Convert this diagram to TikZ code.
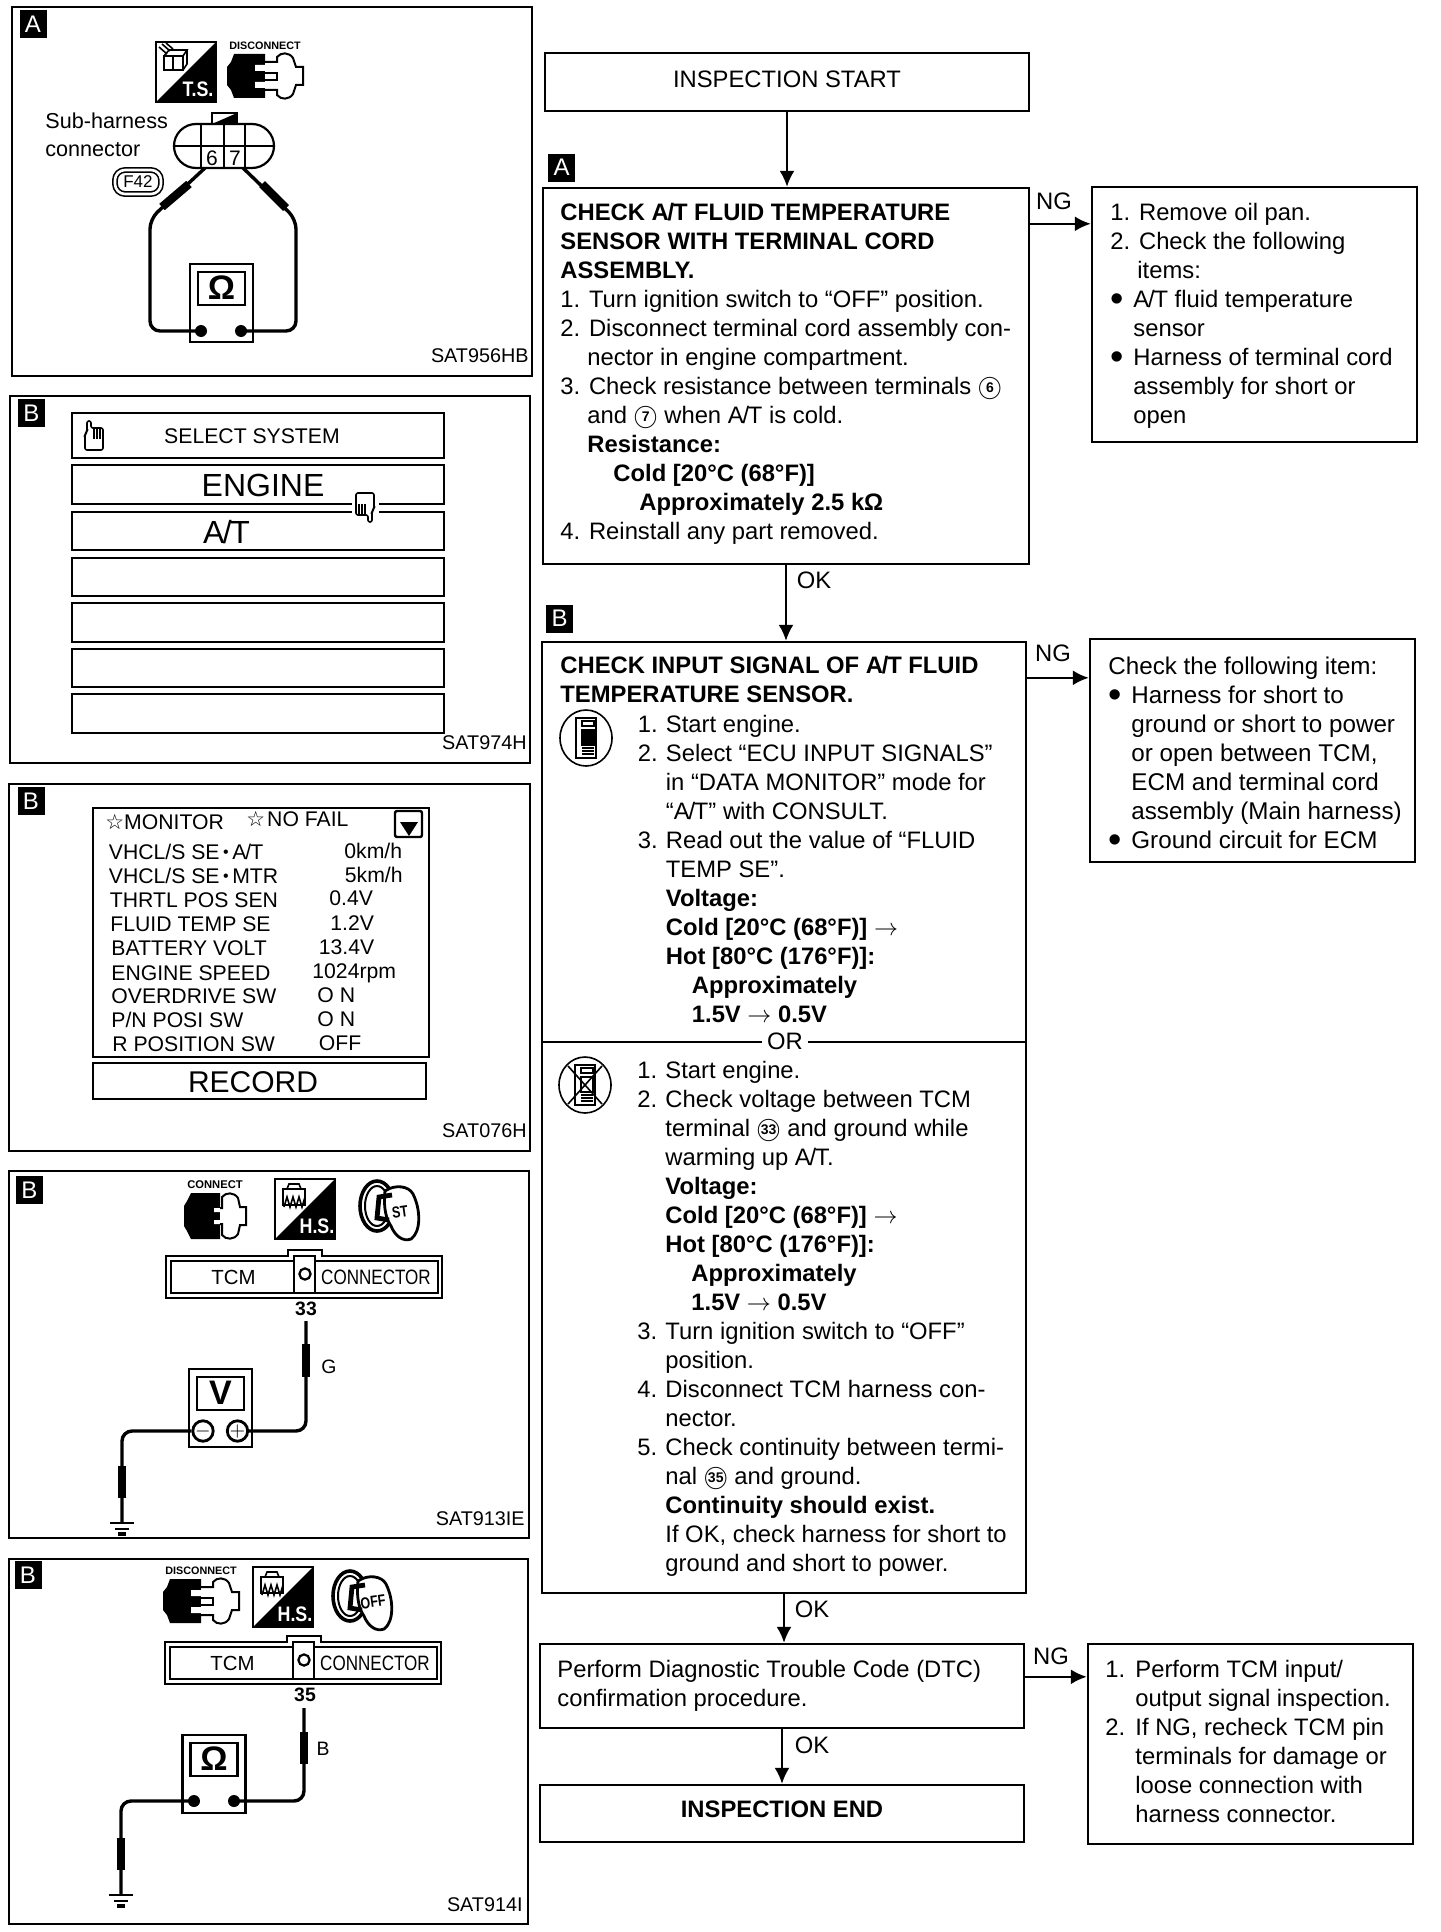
\documentclass[tikz,border=0pt]{standalone}
\usepackage{fontspec}
\setmainfont{Liberation Sans}
\newfontfamily\symfont{DejaVu Sans}
\usetikzlibrary{arrows.meta}

\newcommand{\sz}[1]{\fontsize{#1}{#1}\selectfont}
\newcommand{\atxt}{A\kern-.05em/\kern-.05em T}
\newcommand{\nm}[1]{\makebox[14pt][l]{#1}}
\newcommand{\blt}{\makebox[11.5pt][l]{\sz{19}\raisebox{-2pt}{\textbullet}}}
\newcommand{\cnum}[1]{\ooalign{\hfil\raisebox{1.2pt}{\sz{7}\textbf{#1}}\hfil\cr$\bigcirc$\cr}}

\tikzset{
    panel/.style={line width=1.2pt},
    badge/.style={fill=black, text=white, inner sep=0pt, minimum width=13.5pt, minimum height=14pt, font=\sz{12}},
    flowbox/.style={draw, line width=1.2pt, inner sep=0pt, minimum width=242pt, font=\sz{11.9}},
    sidebox/.style={draw, line width=1.2pt, inner sep=0pt, minimum width=162.5pt},
    flowtxt/.style={anchor=north west, inner sep=0pt, align=left, font=\fontsize{11.9}{14.5}\selectfont},
    arr/.style={line width=1.1pt, -{Latex[width=7.5pt,length=8pt]}},
    verdict/.style={inner sep=0pt, font=\sz{11.9}},
    codetxt/.style={anchor=east, inner sep=0pt, font=\sz{9.9}},
    rowbox/.style={line width=1.3pt},
    montxt/.style={anchor=west, inner sep=0pt, text height=7.6pt, text depth=0pt, font=\sz{10.6}},
    wire/.style={line width=1.7pt, rounded corners=5pt},
    probe/.style={line width=4.2pt},
    termcircle/.style={draw, circle, line width=1.4pt, fill=white, inner sep=0pt, minimum size=9.5pt, font=\sz{10}},
    pics/hand/.style={code={
        \draw[line width=.8pt, fill=white, rounded corners=1pt] (3,12) -- (3,1) -- (7,1) -- (7,8) -- (19,8) -- (19,30) -- (1,30) -- (1,14) -- cycle;
        \draw[line width=.7pt] (10,9) -- (10,19) (13,9) -- (13,19) (16,9) -- (16,19);
    }},
    pics/disconnect/.style={code={
        \fill (7,2) -- (38,2) -- (38,46) -- (7,46) -- (4,38) -- (0,33) -- (0,15) -- (4,10) -- cycle;
        \fill[white] (28,13) rectangle (38,19) (28,30) rectangle (38,36);
        \draw[line width=1pt, fill=white] (38,10) -- (50,10) -- (50,5) .. controls (54,0) and (62,0) .. (66,6) -- (69,15) -- (76,15) -- (76,33) -- (69,33) -- (66,42) .. controls (62,48) and (54,48) .. (50,43) -- (50,38) -- (38,38);
        \draw[line width=1pt, fill=white] (38,21) -- (50,21) -- (50,28) -- (38,28);
    }},
    pics/connect/.style={code={
        \fill (7,0) -- (36,0) -- (36,46) -- (7,46) -- (3,38) -- (0,33) -- (0,13) -- (3,8) -- cycle;
        \fill[white] (30,15) rectangle (38,19) (30,27) rectangle (38,31);
        \draw[line width=1pt, fill=white] (36,15) -- (38,15) -- (38,4) .. controls (42,-1) and (50,-1) .. (54,5) -- (56,14) -- (62,14) -- (62,32) -- (56,32) -- (54,41) .. controls (50,47) and (42,47) .. (38,42) -- (38,31) -- (36,31);
    }},
    pics/sqicon/.style={code={
        \draw[line width=1.1pt] (0,0) rectangle (60,60);
        \fill (60,0) -- (60,60) -- (0,60) -- cycle;
        \node (-lab) [text=white, inner sep=0pt, xscale=.85, font=\bfseries\sz{10.5}] at (42,47) {#1};
    }},
    pics/cubemark/.style={code={
        \draw[line width=.8pt] (8,14) rectangle (27,28) (8,14) -- (13,8) -- (31,8) -- (27,14) (17,14) -- (17,28) (31,8) -- (31,22) -- (27,28);
        \draw[line width=.8pt] (3,5) -- (11,12) (6,2) -- (14,9) (10,1) -- (17,7);
    }},
    pics/heatmark/.style={code={
        \draw[line width=.8pt] (8,10) rectangle (30,26) (12,10) -- (14,5) -- (24,5) -- (26,10);
        \draw[line width=.8pt] (9,28) -- (12,18) -- (15,28) -- (18,18) -- (21,28) -- (24,18) -- (27,28) -- (30,18);
    }},
    pics/keyicon/.style={code={
        \draw[line width=1.8pt] (18,26) ellipse [x radius=8.5pt, y radius=12.5pt];
        \draw[line width=1pt] (18,26) ellipse [x radius=6pt, y radius=10pt];
        \draw[line width=1.4pt, fill=white] (26,11) .. controls (36,4) and (50,6) .. (54,14) .. controls (62,30) and (62,52) .. (52,59) .. controls (44,62) and (36,56) .. (32,46) .. controls (28,40) and (24,30) .. cycle;
        \draw[line width=2.4pt] (33,15) -- (20,17) -- (18,38) -- (30,40);
        \node (-lab) [inner sep=0pt, rotate=8, xscale=.78, font=\bfseries\sz{8}] at (41,32) {#1};
    }},
    pics/meter/.style={code={
        \draw[line width=1.3pt, fill=white] (0,0) rectangle (63,78);
        \draw[line width=1.3pt] (8,8) rectangle (55,41);
        \node (-sym) [inner sep=0pt, font=\bfseries\sz{17}] at (31.5,24) {#1};
    }},
    pics/tcmconn/.style={code={
        \draw[line width=1.2pt, fill=white] (0,0) -- (122,0) -- (122,-6) -- (156,-6) -- (156,0) -- (276,0) -- (276,42) -- (0,42) -- cycle;
        \draw[line width=1.2pt] (5,5) rectangle (272,37);
        \draw[line width=1.2pt, fill=white] (128,0) rectangle (149,37);
        \draw[line width=1.1pt] (139,18) circle (2.8pt);
        \node (-left) [inner sep=0pt, font=\sz{10.2}] at (67.5,21) {TCM};
        \node (-right) [inner sep=0pt, xscale=.82, font=\sz{10.4}] at (210,21) {CONNECTOR};
    }},
    pics/earth/.style={code={
        \draw[line width=1.3pt] (-12,0) -- (12,0) (-7,6) -- (7,6);
        \draw[line width=1.6pt] (-4,11) -- (4,11);
    }},
    pics/consult/.style={code={
        \draw[line width=.8pt] (0,0) ellipse [x radius=13pt, y radius=14pt];
        \draw[line width=1pt, fill=white] (-10,-20) rectangle (10,20);
        \fill[#1] (-4,-8) rectangle (8,7);
        \draw[line width=.8pt] (-4,-8) rectangle (8,7);
        \draw[line width=.6pt] (-4,-17) rectangle (8,-12) (-4,10) -- (8,10) (-4,13) -- (8,13) (-4,16) -- (8,16);
    }},
}

\begin{document}
\begin{tikzpicture}[x=.5pt, y=-.5pt]
    \useasboundingbox (0,0) rectangle (1440,1932);

    % panel A
    \draw[panel] (12,7) rectangle (532,376);
    \node (badgeA) [badge] at (33,24) {A};
    \pic at (156,42) {sqicon={T.S.}};
    \pic at (156,42) {cubemark};
    \node (discA) [inner sep=0pt, font=\bfseries\sz{5.4}] at (265,46) {DISCONNECT};
    \pic at (227,52) {disconnect};
    \node (subText) [anchor=north west, inner sep=0pt, align=left, font=\fontsize{10.8}{14}\selectfont] at (45,112) {Sub-harness\\connector};
    \draw[line width=1.1pt] (212,113) rectangle (237,124);
    \fill (212,124) -- (237,113) -- (237,124) -- cycle;
    \draw[line width=1.1pt, rounded corners=11pt] (174,124) rectangle (274,168);
    \draw[line width=.9pt] (174,146) -- (274,146);
    \draw[line width=1.1pt] (201,124) -- (201,168) (224,124) -- (224,168) (245,124) -- (245,168);
    \node (pinSix) [inner sep=0pt, font=\sz{10.5}] at (212,158) {6};
    \node (pinSeven) [inner sep=0pt, font=\sz{10.5}] at (235,158) {7};
    \node (tagF) [draw, double, double distance=1.3pt, line width=.8pt, rounded corners=5pt, inner sep=0pt, minimum width=23pt, minimum height=12pt, font=\sz{8.5}] at (138,182) {F42};
    \pic (meterA) at (190,264) {meter={Ω}};
    \fill (201,331) circle (3pt) coordinate (dotAl);
    \fill (241,331) circle (3pt) coordinate (dotAr);
    \coordinate (pinAl) at (205,168);
    \coordinate (pinAr) at (243,168);
    \draw[wire] (dotAl) -- (150,331) -- (150,219) -- (pinAl);
    \draw[wire] (dotAr) -- (296,331) -- (296,219) -- (pinAr);
    \draw[probe] (189,184) -- (162,207);
    \draw[probe] (262,184) -- (286,208);
    \node (codeA) [codetxt] at (529,356) {SAT956HB};

    % panel B select
    \draw[panel] (10,396) rectangle (530,763);
    \node (badgeB) [badge] at (31.5,413) {B};
    \draw[rowbox] (72,413) rectangle (444,458);
    \draw[rowbox] (72,465) rectangle (444,504);
    \draw[rowbox] (72,512) rectangle (444,550);
    \draw[rowbox] (72,558) rectangle (444,596);
    \draw[rowbox] (72,603) rectangle (444,642);
    \draw[rowbox] (72,649) rectangle (444,687);
    \draw[rowbox] (72,694) rectangle (444,733);
    \node (selText) [inner sep=0pt, font=\sz{10.6}] at (252,436) {SELECT SYSTEM};
    \node (engText) [inner sep=0pt, font=\sz{16}] at (263,485) {ENGINE};
    \node (atText) [inner sep=0pt, font=\sz{16}] at (226.5,532) {\atxt};
    \pic at (84,420) {hand};
    \fill[white] (352,502) rectangle (379,514);
    \pic[rotate=180] at (375,523) {hand};
    \node (codeB) [codetxt] at (527,743) {SAT974H};

    % panel B monitor
    \draw[panel] (9,784) rectangle (530,1151);
    \node (badgeC) [badge] at (31,801) {B};
    \draw[rowbox] (93,808) rectangle (429,1057);
    \draw[rowbox] (93,1063) rectangle (426,1099);
    \draw[line width=1.2pt, rounded corners=1pt] (395,811) rectangle (422,837);
    \fill (400,822) -- (418,822) -- (409,836) -- cycle;
    \node (monHead) [montxt] at (105,822) {{\symfont\sz{10.5}☆}MONITOR};
    \node (monFail) [montxt] at (246,819) {{\symfont\sz{10.5}☆}\hspace{1pt}NO FAIL};
    \node (monA) [montxt] at (108.5,852) {VHCL/S SE\,\raisebox{1pt}{\sz{8}\textbullet}\,\atxt};
    \node (monB) [montxt] at (108.5,876) {VHCL/S SE\,\raisebox{1pt}{\sz{8}\textbullet}\,MTR};
    \node (monC) [montxt] at (109.5,900) {THRTL POS SEN};
    \node (monD) [montxt] at (110,924) {FLUID TEMP SE};
    \node (monE) [montxt] at (111,948) {BATTERY VOLT};
    \node (monF) [montxt] at (111,973) {ENGINE SPEED};
    \node (monG) [montxt] at (111,996) {OVERDRIVE SW};
    \node (monH) [montxt] at (111,1020) {P/N POSI SW};
    \node (monI) [montxt] at (112,1044) {R POSITION SW};
    \node (valA) [montxt] at (344,851) {0km/h};
    \node (valB) [montxt] at (344.5,875) {5km/h};
    \node (valC) [montxt] at (329,898) {0.4V};
    \node (valD) [montxt] at (330,923) {1.2V};
    \node (valE) [montxt] at (318.5,947) {13.4V};
    \node (valF) [montxt] at (312,971) {1024rpm};
    \node (valG) [montxt] at (317,995) {O N};
    \node (valH) [montxt] at (317,1019) {O N};
    \node (valI) [montxt] at (318.5,1043) {OFF};
    \node (recText) [inner sep=0pt, font=\sz{15}] at (253,1082) {RECORD};
    \node (codeC) [codetxt] at (527,1131) {SAT076H};

    % panel B voltage
    \draw[panel] (9,1171) rectangle (529,1538);
    \node (badgeD) [badge] at (29.5,1190) {B};
    \node (conText) [inner sep=0pt, font=\bfseries\sz{5.6}] at (215,1185) {CONNECT};
    \pic at (184,1193) {connect};
    \pic at (275,1179) {sqicon={H.S.}};
    \pic at (275,1179) {heatmark};
    \pic at (359,1180) {keyicon={ST}};
    \pic (tcmV) at (166,1256) {tcmconn};
    \node (pinV) [inner sep=0pt, font=\bfseries\sz{9.7}] at (306,1309) {33};
    \node (wireV) [inner sep=0pt, font=\sz{9.7}] at (329,1367) {G};
    \pic (meterV) at (189,1369) {meter={V}};
    \node (minusV) [termcircle] at (203,1431) {$-$};
    \node (plusV) [termcircle] at (237.5,1431) {$+$};
    \coordinate (tipV) at (306,1321);
    \coordinate (gndV) at (122,1523);
    \draw[wire] (tipV) |- (plusV);
    \draw[wire] (minusV) -| (gndV);
    \draw[probe] (306,1344) -- (306,1377);
    \draw[probe] (122,1466) -- (122,1498);
    \pic at (gndV) {earth};
    \node (codeD) [codetxt] at (525,1519) {SAT913IE};

    % panel B continuity
    \draw[panel] (9,1559) rectangle (528,1924);
    \node (badgeE) [badge] at (28,1575) {B};
    \node (discE) [inner sep=0pt, font=\bfseries\sz{5.4}] at (201,1571) {DISCONNECT};
    \pic at (163,1577) {disconnect};
    \pic at (253,1567) {sqicon={H.S.}};
    \pic at (253,1567) {heatmark};
    \pic at (332,1570) {keyicon={OFF}};
    \pic (tcmO) at (165,1642) {tcmconn};
    \node (pinO) [inner sep=0pt, font=\bfseries\sz{9.7}] at (305,1695) {35};
    \node (wireO) [inner sep=0pt, font=\sz{9.7}] at (323,1749) {B};
    \pic (meterO) at (182.5,1735) {meter={Ω}};
    \fill (194,1801) circle (3pt) coordinate (dotOl);
    \fill (234,1801) circle (3pt) coordinate (dotOr);
    \coordinate (tipO) at (304,1708);
    \coordinate (gndO) at (121,1895);
    \draw[wire] (tipO) |- (dotOr);
    \draw[wire] (dotOl) -| (gndO);
    \draw[probe] (304,1732) -- (304,1764);
    \draw[probe] (121,1838) -- (121,1870);
    \pic at (gndO) {earth};
    \node (codeE) [codetxt] at (523,1905) {SAT914I};

    % flow boxes
    \node (startBox) [flowbox, minimum height=29pt, text depth=3pt] at (787,82) {INSPECTION START};
    \node (checkA) [flowbox, minimum width=243pt, minimum height=188pt] at (786,376) {};
    \node (ngOne) [sidebox, minimum height=127.5pt] at (1254.5,314.5) {};
    \node (checkB) [flowbox, minimum height=475.5pt] at (784,1117.5) {};
    \node (ngTwo) [sidebox, minimum height=111.5pt] at (1252.5,750.5) {};
    \node (dtcBox) [flowbox, minimum height=42pt] at (782,1686) {};
    \node (ngThree) [sidebox, minimum height=100pt] at (1250.5,1744) {};
    \node (endBox) [flowbox, minimum height=28.5pt, text depth=4pt] at (782,1813.5) {\textbf{INSPECTION END}};
    \node (markA) [badge] at (561.5,167.5) {A};
    \node (markB) [badge] at (559.5,618.5) {B};

    % connectors
    \draw[arr] (startBox.south) -- (startBox.south |- checkA.north);
    \draw[arr] (checkA.south) -- (checkA.south |- checkB.north);
    \draw[arr] (checkB.south) -- (checkB.south |- dtcBox.north);
    \draw[arr] (dtcBox.south) -- (endBox.north);
    \draw[arr] ([yshift=-19pt]ngOne.north west -| checkA.east) -- ([yshift=-19pt]ngOne.north west);
    \draw[arr] ([yshift=-20pt]ngTwo.north west -| checkB.east) -- ([yshift=-20pt]ngTwo.north west);
    \draw[arr] ([yshift=-17pt]ngThree.north west -| dtcBox.east) -- ([yshift=-17pt]ngThree.north west);

    % verdicts
    \node (ngLabA) [verdict] at (1054,201) {NG};
    \node (okLabA) [verdict] at (814,580) {OK};
    \node (ngLabB) [verdict] at (1053,653) {NG};
    \node (okLabB) [verdict] at (812,1609) {OK};
    \node (ngLabC) [verdict] at (1051,1656) {NG};
    \node (okLabC) [verdict] at (812,1745) {OK};

    % box texts
    \node (txtA) [flowtxt] at (560,203) {\textbf{CHECK \atxt{} FLUID TEMPERATURE}\\
        \textbf{SENSOR WITH TERMINAL CORD}\\
        \textbf{ASSEMBLY.}\\
        1. Turn ignition switch to “OFF” position.\\
        2. Disconnect terminal cord assembly con-\\
        \hspace*{13.5pt}nector in engine compartment.\\
        3. Check resistance between terminals \cnum{6}\\
        \hspace*{13.5pt}and \cnum{7} when \atxt{} is cold.\\
        \hspace*{13.5pt}\textbf{Resistance:}\\
        \hspace*{26.5pt}\textbf{Cold [20°C (68°F)]}\\
        \hspace*{39.5pt}\textbf{Approximately 2.5 kΩ}\\
        4. Reinstall any part removed.};
    \node (txtOne) [flowtxt] at (1110,203) {1. Remove oil pan.\\
        2. Check the following\\
        \hspace*{13.5pt}items:\\
        \blt\atxt{} fluid temperature\\
        \hspace*{11.5pt}sensor\\
        \blt Harness of terminal cord\\
        \hspace*{11.5pt}assembly for short or\\
        \hspace*{11.5pt}open};
    \node (headB) [flowtxt] at (560,656) {\textbf{CHECK INPUT SIGNAL OF \atxt{} FLUID}\\
        \textbf{TEMPERATURE SENSOR.}};
    \pic at (586,738) {consult=black};
    \node (txtB) [flowtxt] at (637.5,714.5) {\nm{1.}Start engine.\\
        \nm{2.}Select “ECU INPUT SIGNALS”\\
        \hspace*{14pt}in “DATA MONITOR” mode for\\
        \hspace*{14pt}“\atxt{}” with CONSULT.\\
        \nm{3.}Read out the value of “FLUID\\
        \hspace*{14pt}TEMP SE”.\\
        \hspace*{14pt}\textbf{Voltage:}\\
        \hspace*{14pt}\textbf{Cold [20°C (68°F)]} $\rightarrow$\\
        \hspace*{14pt}\textbf{Hot [80°C (176°F)]:}\\
        \hspace*{27pt}\textbf{Approximately}\\
        \hspace*{27pt}\textbf{1.5V $\rightarrow$ 0.5V}};
    \node (orLabel) [inner sep=2.5pt, font=\sz{11.9}] at (785,1041.5) {OR};
    \draw[line width=1pt] (orLabel.west) -- (orLabel.west -| checkB.west);
    \draw[line width=1pt] (orLabel.east) -- (orLabel.east -| checkB.east);
    \pic at (585,1085) {consult=white};
    \draw[line width=.8pt] (568,1066) -- (602,1104) (568,1104) -- (602,1066);
    \node (txtC) [flowtxt] at (637,1061) {\nm{1.}Start engine.\\
        \nm{2.}Check voltage between TCM\\
        \hspace*{14pt}terminal \cnum{33} and ground while\\
        \hspace*{14pt}warming up \atxt{}.\\
        \hspace*{14pt}\textbf{Voltage:}\\
        \hspace*{14pt}\textbf{Cold [20°C (68°F)]} $\rightarrow$\\
        \hspace*{14pt}\textbf{Hot [80°C (176°F)]:}\\
        \hspace*{27pt}\textbf{Approximately}\\
        \hspace*{27pt}\textbf{1.5V $\rightarrow$ 0.5V}\\
        \nm{3.}Turn ignition switch to “OFF”\\
        \hspace*{14pt}position.\\
        \nm{4.}Disconnect TCM harness con-\\
        \hspace*{14pt}nector.\\
        \nm{5.}Check continuity between termi-\\
        \hspace*{14pt}nal \cnum{35} and ground.\\
        \hspace*{14pt}\textbf{Continuity should exist.}\\
        \hspace*{14pt}If OK, check harness for short to\\
        \hspace*{14pt}ground and short to power.};
    \node (txtTwo) [flowtxt, font=\fontsize{12.1}{14.5}\selectfont] at (1108,656.5) {Check the following item:\\
        \blt Harness for short to\\
        \hspace*{11.5pt}ground or short to power\\
        \hspace*{11.5pt}or open between TCM,\\
        \hspace*{11.5pt}ECM and terminal cord\\
        \hspace*{11.5pt}assembly (Main harness)\\
        \blt Ground circuit for ECM};
    \node (txtDtc) [flowtxt] at (557,1659.5) {Perform Diagnostic Trouble Code (DTC)\\
        confirmation procedure.};
    \node (txtThree) [flowtxt] at (1105,1659.5) {\nm{1.}\hspace{1pt}Perform TCM input/\\
        \hspace*{15pt}output signal inspection.\\
        \nm{2.}\hspace{1pt}If NG, recheck TCM pin\\
        \hspace*{15pt}terminals for damage or\\
        \hspace*{15pt}loose connection with\\
        \hspace*{15pt}harness connector.};
\end{tikzpicture}
\end{document}
